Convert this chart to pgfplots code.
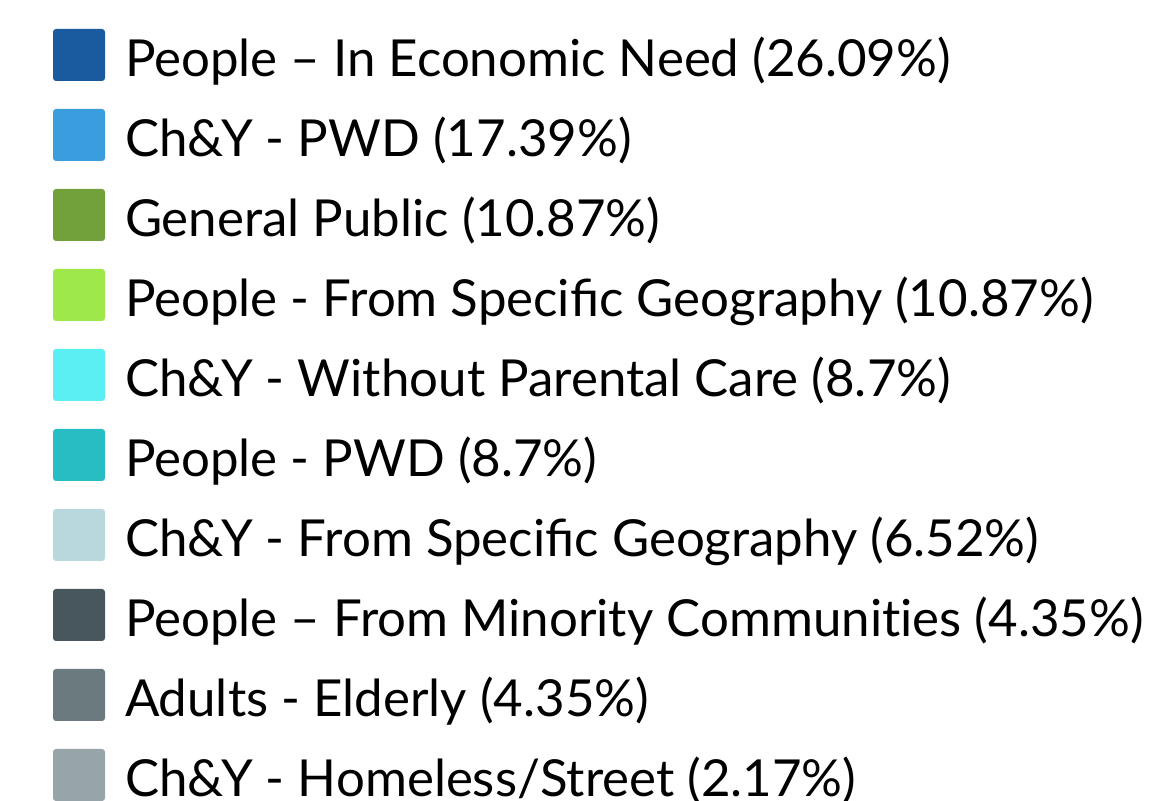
\documentclass[border=0pt]{standalone}
\usepackage{pgfplots}
\pgfplotsset{compat=1.18}
\usepackage{fontspec}
\setmainfont{Lato}
\definecolor{c1}{HTML}{1A5A9E}
\definecolor{c2}{HTML}{3A9DDE}
\definecolor{c3}{HTML}{72A03A}
\definecolor{c4}{HTML}{9EE84C}
\definecolor{c5}{HTML}{5BEEF3}
\definecolor{c6}{HTML}{28BDC3}
\definecolor{c7}{HTML}{B8D8DD}
\definecolor{c8}{HTML}{48575D}
\definecolor{c9}{HTML}{6A7A7E}
\definecolor{c10}{HTML}{97A4A8}
\begin{document}
\begin{tikzpicture}
\begin{axis}[
  width=579.5pt, height=400.5pt, scale only axis,
  hide axis, xmin=0, xmax=1, ymin=0, ymax=100,
  legend cell align=left,
  legend image code/.code={\fill[draw=none, rounded corners=1.5pt] (0pt,-11pt) rectangle (26pt,15pt);},
  legend style={draw=none, fill=none, inner sep=0pt, outer sep=0pt,
    at={(axis description cs:0.04573,0.9638)}, anchor=north west,
    row sep=10pt, column sep=10pt,
    font=\fontsize{25.5}{30}\selectfont,
    nodes={inner sep=0pt, outer sep=0pt, text height=24pt, text depth=6pt}},
]
\addplot[fill=c1, draw=none] coordinates {(0,26.09)};
\addlegendentry{People – In Economic Need (26.09\%)}
\addplot[fill=c2, draw=none] coordinates {(0,17.39)};
\addlegendentry{Ch\&Y - PWD (17.39\%)}
\addplot[fill=c3, draw=none] coordinates {(0,10.87)};
\addlegendentry{General Public (10.87\%)}
\addplot[fill=c4, draw=none] coordinates {(0,10.87)};
\addlegendentry{People - From Specific Geography (10.87\%)}
\addplot[fill=c5, draw=none] coordinates {(0,8.7)};
\addlegendentry{Ch\&Y - Without Parental Care (8.7\%)}
\addplot[fill=c6, draw=none] coordinates {(0,8.7)};
\addlegendentry{People - PWD (8.7\%)}
\addplot[fill=c7, draw=none] coordinates {(0,6.52)};
\addlegendentry{Ch\&Y - From Specific Geography (6.52\%)}
\addplot[fill=c8, draw=none] coordinates {(0,4.35)};
\addlegendentry{People – From Minority Communit\kern0pt ies (4.35\%)}
\addplot[fill=c9, draw=none] coordinates {(0,4.35)};
\addlegendentry{Adults - Elderly (4.35\%)}
\addplot[fill=c10, draw=none] coordinates {(0,2.17)};
\addlegendentry{Ch\&Y - Homeless/Street (2.17\%)}
\end{axis}
\pgfresetboundingbox
\path[use as bounding box] (current axis.south west) rectangle (current axis.north east);
\end{tikzpicture}
\end{document}
